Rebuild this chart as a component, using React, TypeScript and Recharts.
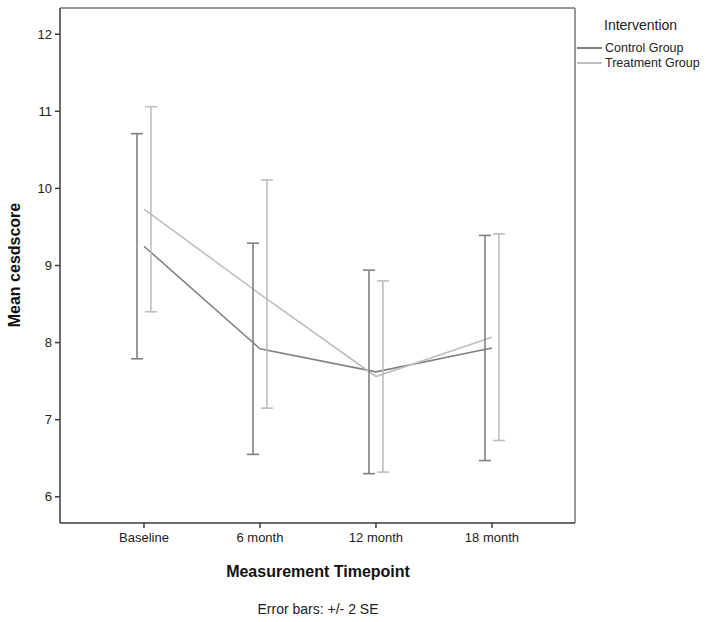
import { ComposedChart, Line, Scatter, ErrorBar, XAxis, YAxis, CartesianGrid } from "recharts";

const timepoints = ["Baseline", "6 month", "12 month", "18 month"];
const controlMean = [9.25, 7.92, 7.62, 7.93];
const controlErr = [1.46, 1.37, 1.32, 1.46]; // +/- 2 SE
const treatmentMean = [9.73, 8.63, 7.56, 8.07];
const treatmentErr = [1.33, 1.48, 1.24, 1.34];
const yTicks = [6, 7, 8, 9, 10, 11, 12];

const CONTROL = "#808080";
const TREATMENT = "#bebebe";
const AXIS = "#3a3a3a";
const FRAME = "#777";
const FONT = "'Liberation Sans', Arial, sans-serif";

// SPSS dodges the two groups' error bars either side of the category point
const DODGE = 0.06;

const lineData = timepoints.map((_, i) => ({
  x: i,
  control: controlMean[i],
  treatment: treatmentMean[i],
}));
const controlBars = timepoints.map((_, i) => ({
  x: i - DODGE,
  y: controlMean[i],
  err: controlErr[i],
}));
const treatmentBars = timepoints.map((_, i) => ({
  x: i + DODGE,
  y: treatmentMean[i],
  err: treatmentErr[i],
}));

const tick = { fill: "#222", fontSize: 13, fontFamily: FONT };

type GridArgs = { offset?: { top?: number; left?: number; width?: number } };

function LegendBox() {
  const items: [string, string][] = [
    ["Control Group", CONTROL],
    ["Treatment Group", TREATMENT],
  ];
  return (
    <div
      style={{ position: "absolute", left: 577, top: 17, fontFamily: FONT, color: "#222" }}
    >
      <div style={{ fontSize: 14, marginLeft: 27, marginBottom: 7, lineHeight: "16px" }}>
        Intervention
      </div>
      {items.map(([name, c]) => (
        <div key={name} style={{ display: "flex", alignItems: "center", height: 15 }}>
          <span
            style={{
              display: "inline-block",
              width: 25,
              height: 0,
              borderTop: `2px solid ${c}`,
              marginRight: 3,
            }}
          />
          <span style={{ fontSize: 12.5 }}>{name}</span>
        </div>
      ))}
    </div>
  );
}

const titleStyle = {
  position: "absolute" as const,
  whiteSpace: "nowrap" as const,
  fontFamily: FONT,
  color: "#111",
};

export default function App() {
  return (
    <div style={{ position: "absolute", left: 0, top: 0, width: 714, height: 622, background: "#fff" }}>
      <ComposedChart
        width={714}
        height={622}
        data={lineData}
        margin={{ top: 8, right: 139, bottom: 69, left: 10 }}
      >
        {/* only the top and right edges of the frame; axes draw the other two */}
        <CartesianGrid
          stroke={FRAME}
          strokeWidth={1.5}
          horizontalCoordinatesGenerator={({ offset }: GridArgs) => [offset?.top ?? 0]}
          verticalCoordinatesGenerator={({ offset }: GridArgs) => [
            (offset?.left ?? 0) + (offset?.width ?? 0),
          ]}
        />
        <XAxis
          dataKey="x"
          type="number"
          domain={[-0.724, 3.716]}
          allowDataOverflow
          ticks={[0, 1, 2, 3]}
          tickFormatter={(i: number) => timepoints[i] ?? ""}
          tick={tick}
          tickSize={5}
          tickMargin={5}
          height={30}
          axisLine={{ stroke: AXIS, strokeWidth: 1.5 }}
          tickLine={{ stroke: AXIS, strokeWidth: 1.5 }}
        />
        <YAxis
          type="number"
          domain={[5.66, 12.34]}
          allowDataOverflow
          ticks={yTicks}
          tick={tick}
          tickSize={5}
          tickMargin={3}
          width={50}
          axisLine={{ stroke: AXIS, strokeWidth: 1.5 }}
          tickLine={{ stroke: AXIS, strokeWidth: 1.5 }}
        />
        <Line
          dataKey="control"
          stroke={CONTROL}
          strokeWidth={1.6}
          dot={false}
          isAnimationActive={false}
        />
        <Line
          dataKey="treatment"
          stroke={TREATMENT}
          strokeWidth={1.6}
          dot={false}
          isAnimationActive={false}
        />
        <Scatter data={controlBars} dataKey="y" shape={() => <g />} isAnimationActive={false}>
          <ErrorBar dataKey="err" direction="y" width={6} stroke={CONTROL} strokeWidth={1.6} isAnimationActive={false} />
        </Scatter>
        <Scatter data={treatmentBars} dataKey="y" shape={() => <g />} isAnimationActive={false}>
          <ErrorBar dataKey="err" direction="y" width={6} stroke={TREATMENT} strokeWidth={1.6} isAnimationActive={false} />
        </Scatter>
      </ComposedChart>
      <LegendBox />
      <div
        style={{
          ...titleStyle,
          left: 15,
          top: 265,
          transform: "translate(-50%, -50%) rotate(-90deg)",
          fontWeight: 700,
          fontSize: 16,
        }}
      >
        Mean cesdscore
      </div>
      <div
        style={{
          ...titleStyle,
          left: 318,
          top: 572,
          transform: "translate(-50%, -50%)",
          fontWeight: 700,
          fontSize: 16,
        }}
      >
        Measurement Timepoint
      </div>
      <div
        style={{
          ...titleStyle,
          left: 318,
          top: 609,
          transform: "translate(-50%, -50%)",
          fontSize: 14,
          color: "#222",
        }}
      >
        Error bars: +/- 2 SE
      </div>
    </div>
  );
}
